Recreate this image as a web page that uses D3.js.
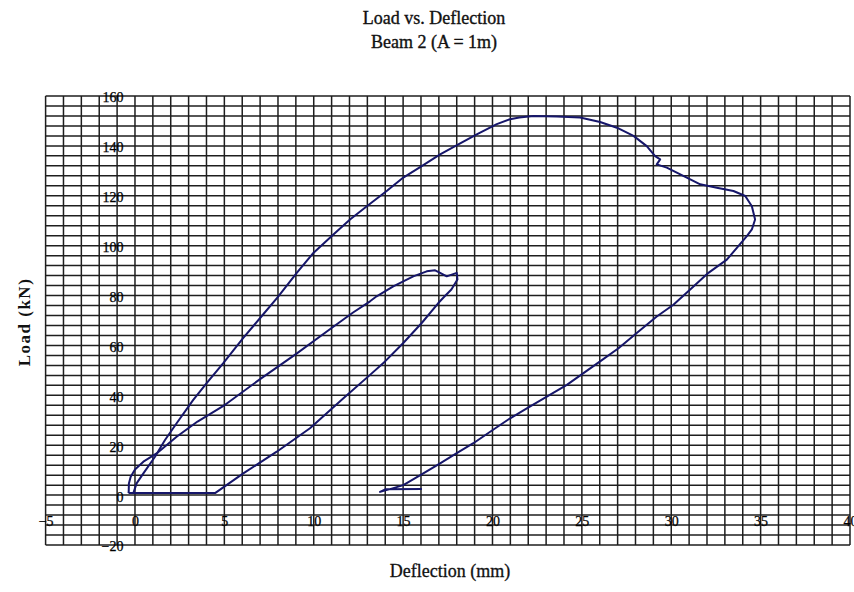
<!DOCTYPE html>
<html>
<head>
<meta charset="utf-8">
<script src="https://cdn.jsdelivr.net/npm/d3@7"></script>
<style>
  body { margin: 0; background: #fff; }
  svg { display: block; }
</style>
</head>
<body>
<div id="chart"></div>
<script>
const w = 854;
const h = 592;

const titleLines = ["Load vs. Deflection", "Beam 2 (A = 1m)"];
const xTitle = "Deflection (mm)";
const yTitle = "Load (kN)";

const xTicks = [-5, 0, 5, 10, 15, 20, 25, 30, 35, 40];
const yTicks = [-20, 0, 20, 40, 60, 80, 100, 120, 140, 160];
const xGridStep = 1;
const yGridStep = 4;

// first cycle: loading, unloading, then back along zero
const cycle1Deflection = [-0.36, -0.35, -0.34, -0.24, 0, 0.47, 1.21, 2.33, 3.5, 5.04, 7, 9, 11, 12.2, 13.15, 13.52, 14.45, 15.57, 16.32, 16.79, 17.07, 17.44, 17.72, 18.0, 18.04, 17.7, 17.3, 16.97, 16.04, 15.01, 13.99, 13.15, 11.66, 9.79, 7.93, 6.06, 4.48, -0.36];
const cycle1Load = [0.8, 1.5, 4.7, 7.4, 10.3, 13.4, 16.7, 23.4, 29.5, 36.2, 46.5, 56.5, 67, 73.2, 77.7, 79.7, 83.7, 87.7, 89.7, 90.1, 89.1, 87.7, 88.4, 89.1, 86.4, 82.4, 79.5, 77, 69, 61, 53.6, 48.2, 38.8, 26.8, 17.4, 8.7, 0.8, 0.8];

// second cycle: reload to failure, then unload
const cycle2Deflection = [-0.09, 0.09, 0.47, 1.12, 1.68, 2.33, 3.26, 4.01, 4.94, 6.06, 7.0, 8.0, 9.05, 9.98, 11.1, 12.03, 12.97, 14.08, 15.01, 16.04, 17.07, 18.09, 19.12, 20.24, 20.98, 21.5, 22.29, 23.6, 24.9, 26.02, 26.96, 27.89, 28.63, 29.1, 29.38, 29.19, 29.75, 30.87, 31.62, 32.55, 33.48, 34.14, 34.51, 34.69, 34.51, 34.23, 33.11, 32.08, 31.06, 30.12, 29.19, 28.07, 27.05, 26.02, 25.09, 24.16, 23.04, 21.92, 20.99, 19.87, 18.93, 18.0, 17.07, 16.13, 15.01, 14.27, 13.71, 14.0, 16.05];
const cycle2Load = [0.8, 4.7, 8.7, 15.4, 22.1, 28.8, 38.2, 44.9, 52.9, 63, 71, 79.5, 89.1, 97.1, 104.5, 110.5, 115.8, 121.9, 127.3, 131.9, 136.6, 140.6, 144.6, 148.7, 150.7, 151.4, 152, 151.8, 151.4, 149.6, 147.3, 144, 139.9, 135.9, 134.6, 132.6, 131.3, 127.3, 124.6, 123.2, 121.9, 119.9, 115.8, 110.5, 106.5, 103.8, 94.4, 89.1, 82.4, 76.3, 71.6, 65, 58.9, 53.6, 48.9, 44.2, 39.5, 34.8, 30.8, 25.4, 20.8, 16.8, 12.7, 8.7, 4.0, 2.4, 1.3, 2.3, 2.4];

const cycles = [
    cycle1Deflection.map((d, i) => ({ x: d, y: cycle1Load[i] })),
    cycle2Deflection.map((d, i) => ({ x: d, y: cycle2Load[i] }))
];

const xScale = d3.scaleLinear()
                .domain([xTicks[0], xTicks[xTicks.length - 1]])
                .range([45.6, 850]);

const yScale = d3.scaleLinear()
                .domain([yTicks[0], yTicks[yTicks.length - 1]])
                .range([545, 96]);

const svg = d3.select("#chart")
                .append("svg")
                .attr("width", w)
                .attr("height", h)
                .style("font-family", "'Liberation Serif', 'DejaVu Serif', serif");

svg.append("rect").attr("width", w).attr("height", h).attr("fill", "#fff");

// title
svg.selectAll(".title")
    .data(titleLines)
    .enter()
    .append("text")
    .attr("class", "title")
    .attr("x", 434)
    .attr("y", (d, i) => 24 + i * 24)
    .attr("text-anchor", "middle")
    .attr("font-size", 18)
    .attr("fill", "#111")
    .attr("stroke", "#111")
    .attr("stroke-width", 0.35)
    .text(d => d);

// grid
const grid = svg.append("g").attr("stroke", "#1e1e1e").attr("stroke-width", 1.5);
const xDomain = xScale.domain();
const yDomain = yScale.domain();

grid.selectAll(".vline")
    .data(d3.range(xDomain[0], xDomain[1] + 0.001, xGridStep))
    .enter()
    .append("line")
    .attr("x1", d => xScale(d))
    .attr("x2", d => xScale(d))
    .attr("y1", yScale(yDomain[1]))
    .attr("y2", yScale(yDomain[0]));

grid.selectAll(".hline")
    .data(d3.range(yDomain[0], yDomain[1] + 0.001, yGridStep))
    .enter()
    .append("line")
    .attr("x1", xScale(xDomain[0]))
    .attr("x2", xScale(xDomain[1]))
    .attr("y1", d => yScale(d))
    .attr("y2", d => yScale(d));

// curves
const line = d3.line()
                .x(d => xScale(d.x))
                .y(d => yScale(d.y));

svg.selectAll(".cycle")
    .data(cycles)
    .enter()
    .append("path")
    .attr("class", "cycle")
    .attr("d", line)
    .attr("fill", "none")
    .attr("stroke", "#16166a")
    .attr("stroke-width", 2)
    .attr("stroke-linejoin", "round");

// axis labels
let yAxis = d3.axisLeft(yScale).tickValues(yTicks).tickSize(0).tickPadding(0);
const yAxisG = svg.append("g")
    .attr("transform", "translate(" + (xScale(0) - 11.5) + ",1.5)")
    .call(yAxis);
yAxisG.select(".domain").remove();
yAxisG.attr("font-family", null).attr("font-size", null);
yAxisG.selectAll("text").attr("font-size", 14).attr("fill", "#000")
    .attr("stroke", "#000").attr("stroke-width", 0.25);

let xAxis = d3.axisBottom(xScale).tickValues(xTicks).tickSize(0).tickPadding(0);
const xAxisG = svg.append("g")
    .attr("transform", "translate(0," + (yScale(-10) + 1) + ")")
    .call(xAxis);
xAxisG.select(".domain").remove();
xAxisG.attr("font-family", null).attr("font-size", null);
xAxisG.selectAll("text").attr("y", 0).attr("dy", "0.35em").attr("font-size", 14).attr("fill", "#000")
    .attr("stroke", "#000").attr("stroke-width", 0.25);

// axis titles
svg.append("text")
    .attr("x", 450)
    .attr("y", 577)
    .attr("text-anchor", "middle")
    .attr("font-size", 18)
    .attr("fill", "#111")
    .attr("stroke", "#111")
    .attr("stroke-width", 0.3)
    .text(xTitle);

svg.append("text")
    .attr("transform", "translate(30,322) rotate(-90)")
    .attr("text-anchor", "middle")
    .attr("font-size", 17)
    .attr("font-weight", "bold")
    .attr("letter-spacing", 1.5)
    .attr("fill", "#111")
    .text(yTitle);
</script>
</body>
</html>
